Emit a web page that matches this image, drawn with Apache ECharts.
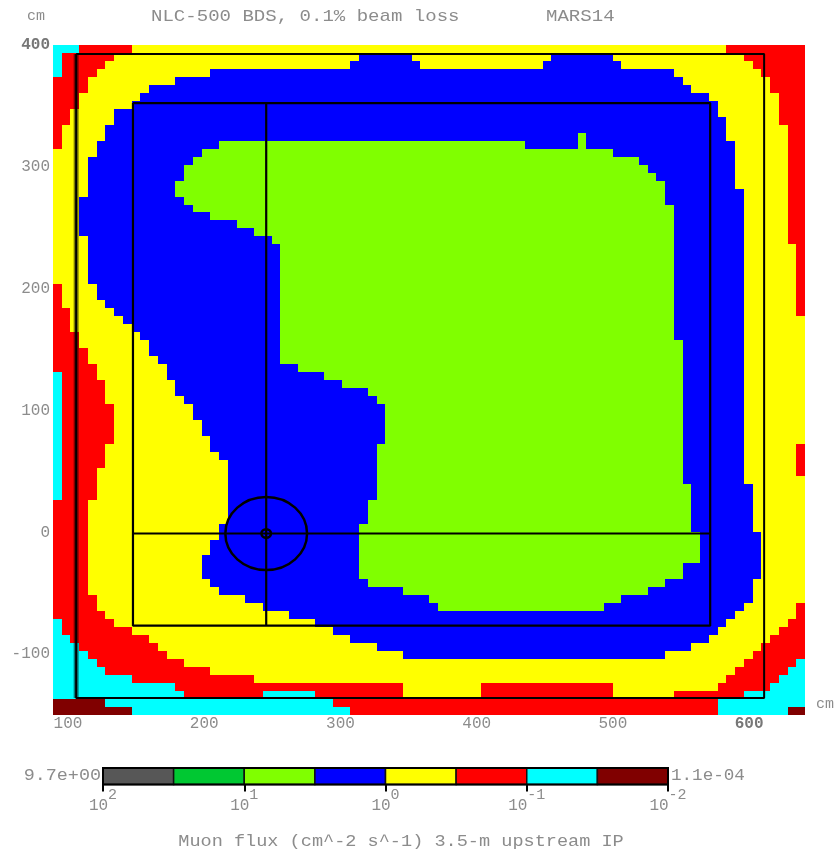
<!DOCTYPE html>
<html><head><meta charset="utf-8">
<script src="https://cdn.jsdelivr.net/npm/echarts@6/dist/echarts.min.js"></script>
<style>html,body{margin:0;padding:0;background:#fff}#c{width:834px;height:849px}</style>
</head><body><div id="c"></div>
<script>
// ---- data ----
const X_RANGE = [89, 641];
const Y_RANGE = [-150, 400];
const N_COLS = 86;
const N_ROWS = 84;
const xTicks = [100, 200, 300, 400, 500, 600];
const yTicks = [-100, 0, 100, 200, 300, 400];
const levelCodes = ['K', 'G', 'L', 'B', 'Y', 'R', 'C', 'D'];
const levelColors = ['#575757', '#00c832', '#80ff00', '#0000ff', '#ffff00', '#ff0000', '#00ffff', '#800000'];
const colorbarExponents = ['2', '1', '0', '-1', '-2'];
const colorbarTickBins = [0, 2, 4, 6, 8];
const colorbarEnds = ['9.7e+00', '1.1e-04'];
// each row (top to bottom): level letter + first column of that run
const fluxRows = [
'C0 R3 Y9 R77',
'C0 R1 Y7 B35 Y41 B57 Y64 R79',
'C0 R1 Y6 B34 Y42 B56 Y65 R80',
'C0 R1 Y5 B18 Y71 R81',
'R0 Y4 B14 Y72 R82',
'R0 Y4 B11 Y73 R82',
'R0 Y3 B10 Y75 R83',
'R0 Y3 B9 Y76 R83',
'R0 Y2 B7 Y76 R83',
'R0 Y2 B7 Y77 R83',
'R0 Y1 B6 Y77 R84',
'R0 Y1 B6 L60 B61 Y77 R84',
'R0 Y1 B5 L19 B54 L60 B61 Y78 R84',
'Y0 B5 L17 B64 Y78 R84',
'Y0 B4 L16 B67 Y78 R84',
'Y0 B4 L15 B68 Y78 R84',
'Y0 B4 L15 B69 Y78 R84',
'Y0 B4 L14 B70 Y78 R84',
'Y0 B4 L14 B70 Y79 R84',
'Y0 B3 L15 B70 Y79 R84',
'Y0 B3 L16 B71 Y79 R84',
'Y0 B3 L18 B71 Y79 R84',
'Y0 B3 L21 B71 Y79 R84',
'Y0 B3 L23 B71 Y79 R84',
'Y0 B4 L25 B71 Y79 R84',
'Y0 B4 L26 B71 Y79 R85',
'Y0 B4 L26 B71 Y79 R85',
'Y0 B4 L26 B71 Y79 R85',
'Y0 B4 L26 B71 Y79 R85',
'Y0 B4 L26 B71 Y79 R85',
'R0 Y1 B5 L26 B71 Y79 R85',
'R0 Y1 B5 L26 B71 Y79 R85',
'R0 Y1 B6 L26 B71 Y79 R85',
'R0 Y2 B7 L26 B71 Y79 R85',
'R0 Y2 B8 L26 B71 Y79',
'R0 Y2 B9 L26 B71 Y79',
'R0 Y3 B10 L26 B71 Y79',
'R0 Y3 B11 L26 B72 Y79',
'R0 Y4 B11 L26 B72 Y79',
'R0 Y4 B12 L26 B72 Y79',
'R0 Y5 B13 L28 B72 Y79',
'C0 R1 Y5 B13 L31 B72 Y79',
'C0 R1 Y6 B14 L33 B72 Y79',
'C0 R1 Y6 B14 L36 B72 Y79',
'C0 R1 Y6 B15 L37 B72 Y79',
'C0 R1 Y7 B16 L38 B72 Y79',
'C0 R1 Y7 B16 L38 B72 Y79',
'C0 R1 Y7 B17 L38 B72 Y79',
'C0 R1 Y7 B17 L38 B72 Y79',
'C0 R1 Y7 B18 L38 B72 Y79',
'C0 R1 Y6 B18 L37 B72 Y79 R85',
'C0 R1 Y6 B19 L37 B72 Y79 R85',
'C0 R1 Y6 B20 L37 B72 Y79 R85',
'C0 R1 Y5 B20 L37 B72 Y79 R85',
'C0 R1 Y5 B20 L37 B72 Y79',
'C0 R1 Y5 B20 L37 B73 Y80',
'C0 R1 Y5 B20 L37 B73 Y80',
'R0 Y4 B20 L36 B73 Y80',
'R0 Y4 B20 L36 B73 Y80',
'R0 Y4 B20 L36 B73 Y80',
'R0 Y4 B19 L35 B73 Y80',
'R0 Y4 B19 L35 B74 Y81',
'R0 Y4 B18 L35 B74 Y81',
'R0 Y4 B18 L35 B74 Y81',
'R0 Y4 B17 L35 B74 Y81',
'R0 Y4 B17 L35 B72 Y81',
'R0 Y4 B17 L35 B72 Y81',
'R0 Y4 B18 L36 B70 Y80',
'R0 Y4 B19 L40 B68 Y80',
'R0 Y5 B22 L43 B65 Y80',
'R0 Y5 B24 L44 B63 Y79 R85',
'R0 Y6 B27 Y78 R85',
'C0 R1 Y7 B30 Y77 R84',
'C0 R1 Y9 B32 Y76 R83',
'C0 R2 Y11 B34 Y75 R82',
'C0 R3 Y12 B37 Y73 R81',
'C0 R4 Y13 B40 Y70 R80',
'C0 R5 Y15 R79 C85',
'C0 R6 Y18 R78 C84',
'C0 R9 Y23 R77 C83',
'C0 R14 Y40 R49 Y64 R76 C82',
'C0 R15 C24 R30 Y40 R49 Y64 R71 C79',
'D0 C6 R32 C76',
'D0 C9 R34 C76 D84'
];
// overlay geometry in cm
const outerFrame = [[106, 392.6], [611, 392.6], [611, -136], [106, -136], [106, 392.6]];
const outerLeft = [[106, 392.6], [106, -136]];
const innerFrame = [[147.7, 352.3], [571.4, 352.3], [571.4, -76.7], [147.7, -76.7], [147.7, 352.3]];
const crossH = [[147.7, -1], [571.4, -1]];
const crossV = [[245.5, 352.3], [245.5, -76.7]];
const ipRings = [[245.5, -1, 30], [245.5, -1, 3.5]];

// ---- build cells ----
const DX = (X_RANGE[1] - X_RANGE[0]) / N_COLS;
const DY = (Y_RANGE[1] - Y_RANGE[0]) / N_ROWS;
const cells = [];
fluxRows.forEach(function (row, r) {
  const toks = row.trim().split(/\s+/).map(function (t) { return { lv: levelCodes.indexOf(t[0]), c: +t.slice(1) }; });
  toks.forEach(function (t, i) {
    const c1 = i + 1 < toks.length ? toks[i + 1].c : N_COLS;
    cells.push([X_RANGE[0] + t.c * DX, X_RANGE[0] + c1 * DX, Y_RANGE[1] - r * DY, Y_RANGE[1] - (r + 1) * DY, t.lv]);
  });
});
const cbCells = levelCodes.map(function (c, i) { return [i, i]; });

const FONT = 'Liberation Mono';
const TXT = '#8c8c8c';
const chart = echarts.init(document.getElementById('c'), null, { renderer: 'canvas' });
function lineSeries(data, width, color) {
  return { type: 'line', data: data, symbol: 'none', silent: true, animation: false, z: 5,
    lineStyle: { color: color || '#000', width: width }, xAxisIndex: 0, yAxisIndex: 0 };
}
const opt = {
  backgroundColor: '#fff',
  animation: false,
  grid: [
    { left: 53, right: 29, top: 45, bottom: 134 },
    { left: 103, width: 565, top: 768, height: 16.5 }
  ],
  xAxis: [
    { type: 'value', gridIndex: 0, min: X_RANGE[0], max: X_RANGE[1], splitLine: { show: false },
      axisLine: { show: false }, axisTick: { show: false },
      axisLabel: { customValues: xTicks, margin: 1, fontFamily: FONT, fontSize: 16, color: TXT,
        formatter: function (v) { return v === 600 ? '{b|' + v + '}' : '' + v; },
        rich: { b: { fontFamily: FONT, fontSize: 16, fontWeight: 'bold', color: '#777' } } } },
    { type: 'value', gridIndex: 1, min: 0, max: 8, splitLine: { show: false },
      axisLine: { show: false },
      axisTick: { show: true, customValues: colorbarTickBins, length: 7, lineStyle: { color: '#000', width: 2 } },
      axisLabel: { customValues: colorbarTickBins, margin: 3,
        formatter: function (v) { return '{b|10}{s|' + colorbarExponents[colorbarTickBins.indexOf(v)] + '}'; },
        rich: {
          b: { fontFamily: FONT, fontSize: 16, color: TXT, lineHeight: 26, verticalAlign: 'bottom' },
          s: { fontFamily: FONT, fontSize: 15, color: TXT, lineHeight: 14, verticalAlign: 'top' }
        } } }
  ],
  yAxis: [
    { type: 'value', gridIndex: 0, min: Y_RANGE[0], max: Y_RANGE[1], splitLine: { show: false },
      axisLine: { show: false }, axisTick: { show: false },
      axisLabel: { customValues: yTicks, margin: 3, fontFamily: FONT, fontSize: 16, color: TXT,
        formatter: function (v) { return v === 400 ? '{b|' + v + '}' : '' + v; },
        rich: { b: { fontFamily: FONT, fontSize: 16, fontWeight: 'bold', color: '#777' } } } },
    { type: 'value', gridIndex: 1, min: 0, max: 1, show: false }
  ],
  series: [
    { type: 'custom', xAxisIndex: 0, yAxisIndex: 0, data: cells, silent: true, animation: false,
      encode: { x: [0, 1], y: [2, 3] },
      renderItem: function (params, api) {
        const p0 = api.coord([api.value(0), api.value(2)]);
        const p1 = api.coord([api.value(1), api.value(3)]);
        const x0 = Math.round(p0[0]), x1 = Math.round(p1[0]);
        const y0 = Math.round(p0[1]), y1 = Math.round(p1[1]);
        return { type: 'rect', shape: { x: x0, y: y0, width: x1 - x0, height: y1 - y0 },
          style: { fill: levelColors[api.value(4)] } };
      } },
    lineSeries(outerFrame, 2),
    lineSeries(outerLeft, 5, 'rgba(0,0,0,0.5)'),
    lineSeries(innerFrame, 2.2),
    lineSeries(crossH, 2.2),
    lineSeries(crossV, 2.2),
    { type: 'custom', xAxisIndex: 0, yAxisIndex: 0, data: ipRings, silent: true, animation: false, z: 6,
      renderItem: function (params, api) {
        const c = api.coord([api.value(0), api.value(1)]);
        const s = api.size([api.value(2), api.value(2)]);
        return { type: 'ellipse', shape: { cx: c[0], cy: c[1], rx: s[0], ry: s[1] },
          style: { fill: null, stroke: '#000', lineWidth: 2.5 } };
      } },
    { type: 'custom', xAxisIndex: 1, yAxisIndex: 1, data: cbCells, silent: true, animation: false,
      renderItem: function (params, api) {
        const p0 = api.coord([api.value(0), 1]);
        const p1 = api.coord([api.value(0) + 1, 0]);
        return { type: 'rect', shape: { x: p0[0], y: p0[1], width: p1[0] - p0[0], height: p1[1] - p0[1] },
          style: { fill: levelColors[api.value(1)], stroke: '#111', lineWidth: 1.5 } };
      } },
    { type: 'custom', xAxisIndex: 1, yAxisIndex: 1, data: [[0, 8]], silent: true, animation: false, z: 3,
      renderItem: function (params, api) {
        const p0 = api.coord([api.value(0), 1]);
        const p1 = api.coord([api.value(1), 0]);
        return { type: 'rect', shape: { x: p0[0], y: p0[1], width: p1[0] - p0[0], height: p1[1] - p0[1] },
          style: { fill: null, stroke: '#000', lineWidth: 2 } };
      } }
  ],
  graphic: [
    { type: 'text', x: 36, y: 16, style: { text: 'cm', font: '15px "' + FONT + '"', fill: TXT, align: 'center', verticalAlign: 'middle' } },
    { type: 'text', x: 151, y: 16, scaleX: 1.12, style: { text: 'NLC-500 BDS, 0.1% beam loss', font: '17px "' + FONT + '"', fill: TXT, align: 'left', verticalAlign: 'middle' } },
    { type: 'text', x: 546, y: 16, scaleX: 1.12, style: { text: 'MARS14', font: '17px "' + FONT + '"', fill: TXT, align: 'left', verticalAlign: 'middle' } },
    { type: 'text', x: 816, y: 704, style: { text: 'cm', font: '15px "' + FONT + '"', fill: TXT, align: 'left', verticalAlign: 'middle' } },
    { type: 'text', x: 101, y: 776, scaleX: 1.15, style: { text: colorbarEnds[0], font: '16px "' + FONT + '"', fill: TXT, align: 'right', verticalAlign: 'middle' } },
    { type: 'text', x: 671, y: 776, scaleX: 1.1, style: { text: colorbarEnds[1], font: '16px "' + FONT + '"', fill: TXT, align: 'left', verticalAlign: 'middle' } },
    { type: 'text', x: 401, y: 842, scaleX: 1.16, style: { text: 'Muon flux (cm^-2 s^-1) 3.5-m upstream IP', font: '16px "' + FONT + '"', fill: TXT, align: 'center', verticalAlign: 'middle' } }
  ]
};
chart.setOption(opt);
</script>
</body></html>
